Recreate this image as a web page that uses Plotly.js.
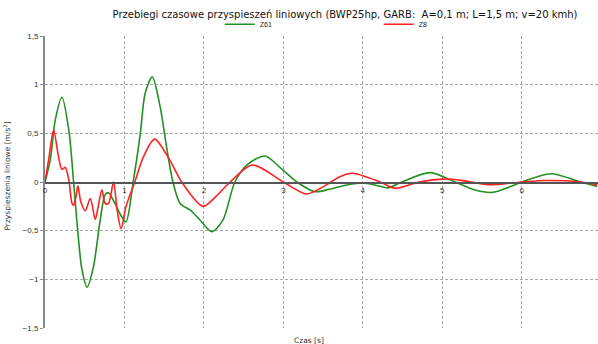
<!DOCTYPE html>
<html>
<head>
<meta charset="utf-8">
<script src="https://cdn.plot.ly/plotly-3.0.1.min.js"></script>
<style>html,body{margin:0;padding:0;background:#fff}</style>
</head>
<body>
<div id="chart" style="width:598px;height:344px"></div>
<script>
const seriesNames = ["Z61", "Z8"];
const z61Time = [0, 0.067, 0.13, 0.213, 0.30, 0.36, 0.40, 0.465, 0.53, 0.61, 0.695, 0.757, 0.80, 0.88, 0.967, 1.02, 1.11, 1.20, 1.26, 1.35, 1.45, 1.53, 1.61, 1.70, 1.83, 1.95, 2.10, 2.24, 2.39, 2.55, 2.77, 2.97, 3.17, 3.40, 3.58, 3.80, 4.00, 4.15, 4.32, 4.49, 4.85, 5.16, 5.40, 5.63, 5.85, 6.00, 6.37, 6.74, 6.95];
const z61Acc = [0, 0.23, 0.64, 0.87, 0.53, 0.0, -0.39, -0.90, -1.08, -0.87, -0.39, -0.13, -0.11, -0.22, -0.36, -0.41, 0, 0.50, 0.91, 1.08, 0.77, 0.36, 0, -0.22, -0.29, -0.39, -0.51, -0.39, 0, 0.18, 0.267, 0.14, 0, -0.10, -0.075, -0.03, -0.01, -0.03, -0.06, 0, 0.096, 0, -0.08, -0.107, -0.05, 0, 0.085, 0, -0.045];
const z8Time = [0, 0.05, 0.108, 0.17, 0.213, 0.255, 0.30, 0.34, 0.36, 0.39, 0.414, 0.45, 0.506, 0.57, 0.632, 0.67, 0.716, 0.757, 0.80, 0.862, 0.91, 0.958, 1.02, 1.13, 1.24, 1.38, 1.57, 1.72, 1.99, 2.15, 2.33, 2.61, 3.0, 3.29, 3.50, 3.71, 3.87, 4.22, 4.41, 4.71, 5.03, 5.24, 5.58, 6.0, 6.3, 6.74, 6.95];
const z8Acc = [0, 0.25, 0.535, 0.26, 0.13, 0.15, 0.02, -0.22, -0.24, -0.15, -0.04, -0.2, -0.295, -0.17, -0.385, -0.25, -0.08, -0.22, -0.22, 0.0, -0.3, -0.48, -0.25, 0, 0.26, 0.44, 0.225, 0, -0.25, -0.15, 0, 0.175, 0, -0.123, -0.05, 0.055, 0.09, 0, -0.065, 0, 0.03, 0.017, -0.028, 0, 0.015, 0, -0.03];
const xTicks = [0, 1, 2, 3, 4, 5, 6];
const yTicks = [-1.5, -1, -0.5, 0, 0.5, 1, 1.5];

const FONT = "Liberation Sans, Arial, sans-serif";
const WIDE = "DejaVu Sans, sans-serif";
const traces = [
  {x: z61Time, y: z61Acc, name: seriesNames[0], type: "scatter", mode: "lines",
   line: {color: "#239023", width: 1.6, shape: "spline", smoothing: 0.8}},
  {x: z8Time, y: z8Acc, name: seriesNames[1], type: "scatter", mode: "lines",
   line: {color: "#ff2020", width: 1.6, shape: "spline", smoothing: 0.8}}
];
const layout = {
  width: 598, height: 344,
  margin: {l: 45, r: 0, t: 36, b: 16},
  paper_bgcolor: "#fff", plot_bgcolor: "#fff",
  separators: ",.",
  font: {family: FONT, size: 8, color: "#222"},
  title: {text: "Przebiegi czasowe przyspieszeń liniowych (BWP25hp, GARB:  A=0,1 m; L=1,5 m; v=20 kmh)",
          font: {family: WIDE, size: 10, color: "#111"}, x: 0.577, xanchor: "center", y: 0.958, yanchor: "middle"},
  showlegend: true,
  legend: {orientation: "h", x: 0.316, xanchor: "left", y: 1.04, yanchor: "middle",
           font: {family: FONT, size: 7, color: "#222"}, entrywidth: 114, entrywidthmode: "pixels",
           bgcolor: "rgba(0,0,0,0)", tracegroupgap: 0},
  xaxis: {range: [0, 6.96], tickvals: xTicks, ticktext: xTicks.map(String),
          anchor: "free", position: 0.5, showline: true, linecolor: "#555", linewidth: 1.5,
          showgrid: true, gridcolor: "#a8a8a8", griddash: "3px,2px", gridwidth: 1,
          zeroline: false, ticks: "", tickfont: {size: 8, color: "#333"}},
  yaxis: {range: [-1.5, 1.5], tickvals: yTicks, showline: true, linecolor: "#888", linewidth: 2,
          showgrid: true, gridcolor: "#a8a8a8", griddash: "3px,2px", gridwidth: 1,
          zeroline: false, ticks: "outside", ticklen: 3, tickcolor: "#888",
          tickfont: {size: 8, color: "#333"}},
  annotations: [
    {text: "Czas [s]", xref: "paper", yref: "paper", x: 0.478, y: -0.02, xanchor: "center", yanchor: "top",
     showarrow: false, font: {family: WIDE, size: 7.5, color: "#333"}},
    {text: "Przyspieszenia liniowe [m/s<sup>2</sup>]", xref: "paper", yref: "paper", x: -0.068, y: 0.52,
     xanchor: "center", yanchor: "middle", textangle: -90, showarrow: false,
     font: {family: WIDE, size: 7.5, color: "#333"}}
  ]
};
Plotly.newPlot("chart", traces, layout, {displayModeBar: false, staticPlot: true});
</script>
</body>
</html>
